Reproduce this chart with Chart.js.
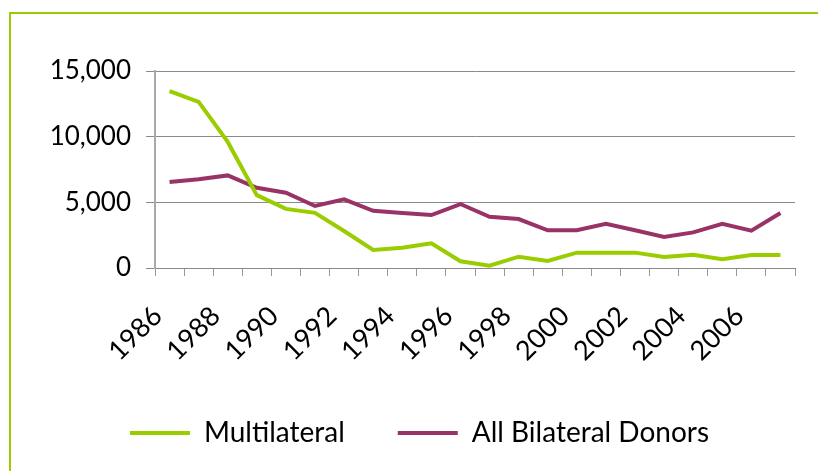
<!DOCTYPE html>
<html>
<head>
<meta charset="utf-8">
<script src="https://cdn.jsdelivr.net/npm/chart.js@4.4.1/dist/chart.umd.min.js"></script>
<style>
  html, body { margin: 0; padding: 0; background: #fff; overflow: hidden; }
  #frame {
    position: absolute; left: 9px; top: 12px; width: 900px; height: 500px;
    border-top: 2px solid #9acd00; border-left: 2px solid #9acd00;
  }
  #wrap { position: absolute; left: 0; top: 0; width: 818px; height: 471px; }
</style>
</head>
<body>
<div id="frame"></div>
<div id="wrap"><canvas id="myChart"></canvas></div>
<script>
const years = ["1986", "1987", "1988", "1989", "1990", "1991", "1992", "1993", "1994", "1995", "1996",
  "1997", "1998", "1999", "2000", "2001", "2002", "2003", "2004", "2005", "2006", "2007"]
const multilateral = [13470, 12650, 9600, 5550, 4500, 4200, 2820, 1370, 1550, 1880, 510,
  180, 860, 530, 1170, 1170, 1170, 840, 1010, 660, 990, 990]
const bilateral = [6550, 6750, 7050, 6110, 5730, 4720, 5230, 4360, 4190, 4030, 4870,
  3900, 3730, 2870, 2870, 3370, 2870, 2360, 2710, 3370, 2840, 4190]
const yTicks = [0, 5000, 10000, 15000]

const FONT = "Lato, 'Open Sans', sans-serif"
const GREEN = "#9acd00"
const PURPLE = "#993366"

Chart.defaults.font.family = FONT
Chart.defaults.color = "#000"

const ctx = document.getElementById("myChart").getContext("2d")
const config = {
  type: "line",
  data: {
    labels: years,
    datasets: [
      { label: "Multilateral", data: multilateral, borderColor: GREEN, backgroundColor: GREEN },
      { label: "All Bilateral Donors", data: bilateral, borderColor: PURPLE, backgroundColor: PURPLE },
    ].map((d) => ({ ...d, borderWidth: 4, pointRadius: 0, tension: 0, fill: false })),
  },
  options: {
    responsive: true,
    maintainAspectRatio: false,
    animation: false,
    layout: { padding: { left: 44, right: 23, top: 71, bottom: 14 } },
    plugins: {
      tooltip: { enabled: false },
      legend: {
        position: "bottom",
        labels: {
          boxWidth: 60,
          boxHeight: 4,
          padding: 10,
          font: { size: 28 },
          // extra trailing spaces widen the gap between the two entries
          generateLabels: (chart) =>
            chart.data.datasets.map((d, i) => ({
              text: i === 0 ? d.label + "      " : d.label,
              fillStyle: d.borderColor,
              strokeStyle: d.borderColor,
              lineWidth: 0,
              datasetIndex: i,
            })),
        },
      },
    },
    scales: {
      x: {
        offset: true,
        grid: { offset: true, drawOnChartArea: false, drawTicks: true, tickLength: 8, color: "#999" },
        border: { color: "#888" },
        ticks: {
          autoSkip: false,
          minRotation: 45,
          maxRotation: 45,
          padding: 24,
          labelOffset: -12,
          font: { size: 27 },
          callback: function (value, index) {
            return index % 2 === 0 ? years[index] : ""
          },
        },
        afterFit: (s) => {
          s.height = 141
          s.paddingLeft = 0
          s.paddingRight = 0
        },
      },
      y: {
        min: 0,
        max: 15000,
        afterBuildTicks: (s) => { s.ticks = yTicks.map((v) => ({ value: v })) },
        grid: { color: "#8a8a8a", tickLength: 9, lineWidth: 1 },
        border: { color: "#aaa", width: 2 },
        ticks: {
          padding: 15,
          font: { size: 26 },
          callback: (v) => v.toLocaleString("en-US"),
        },
        afterFit: (s) => { s.width = 111 },
      },
    },
  },
}
var myChart = new Chart(ctx, config)
</script>
</body>
</html>
